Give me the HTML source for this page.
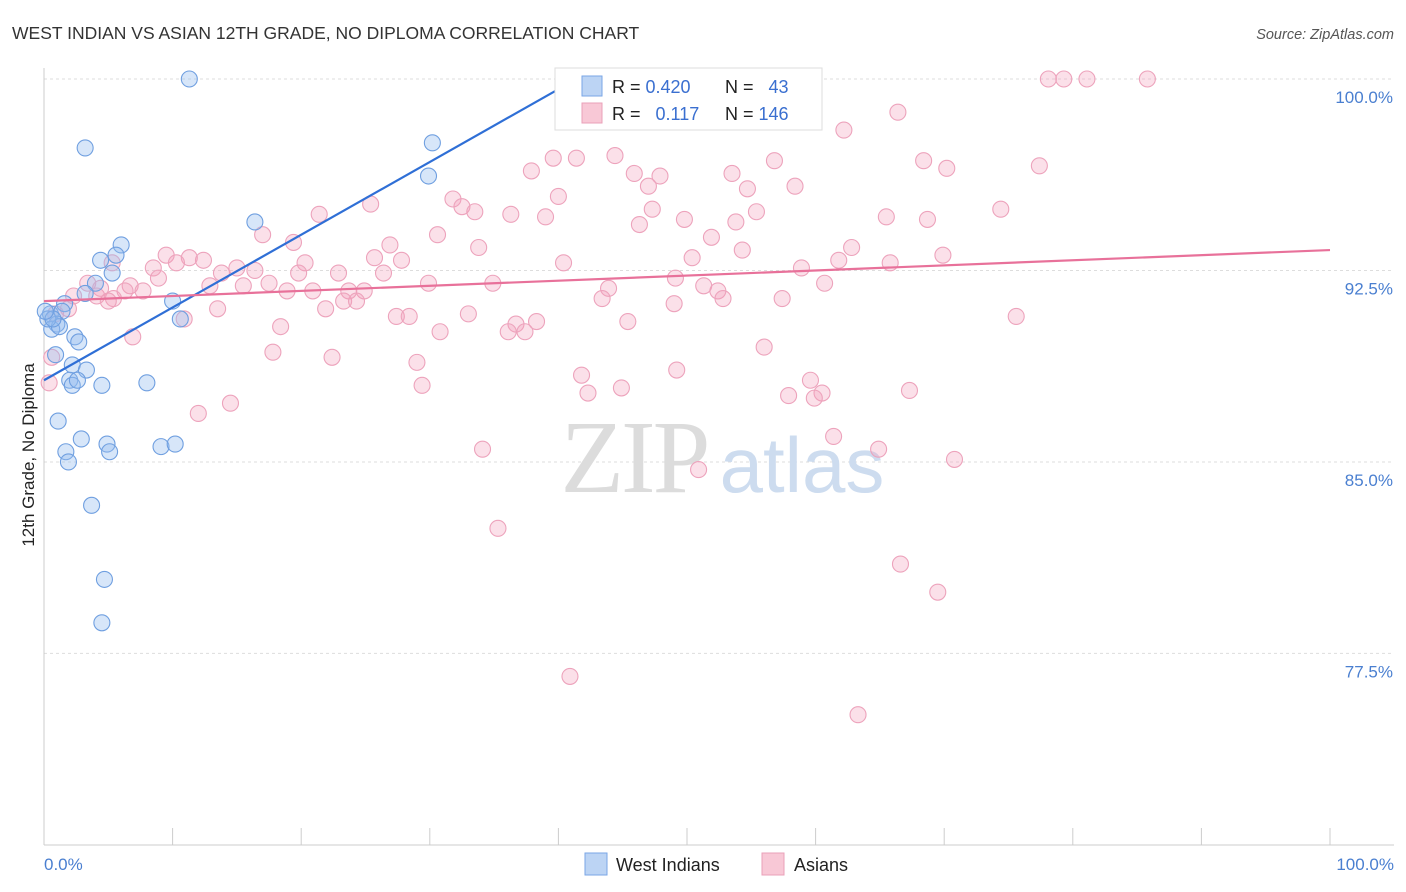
<!DOCTYPE html>
<html><head><meta charset="utf-8"><style>
body{margin:0;background:#fff;font-family:"Liberation Sans",sans-serif;}
svg{display:block}
</style></head><body>
<svg id="chart" width="1406" height="892">
<text x="12" y="39" font-size="17.5" fill="#333">WEST INDIAN VS ASIAN 12TH GRADE, NO DIPLOMA CORRELATION CHART</text>
<text x="1394" y="39" font-size="14.5" fill="#555" font-style="italic" text-anchor="end">Source: ZipAtlas.com</text>
<g id="grid"></g>
<g>
<text x="634" y="492" font-size="104" font-family="Liberation Serif,serif" fill="#dcdcdc" text-anchor="middle" letter-spacing="-3">ZIP</text>
<text x="802" y="492" font-size="78" fill="#cddcef" text-anchor="middle">atlas</text>
</g>
<g id="axes"></g>
<g id="pts"></g>
<g id="trend"></g>
<text transform="translate(34,455) rotate(-90)" font-size="17" fill="#222" text-anchor="middle">12th Grade, No Diploma</text>
<text x="44" y="870" font-size="17" fill="#4a7fd0">0.0%</text>
<text x="1394" y="870" font-size="17" fill="#4a7fd0" text-anchor="end">100.0%</text>
<g>
<rect x="555" y="68" width="267" height="62" fill="#fff" stroke="#ddd"/>
<rect x="582" y="76" width="20" height="20" fill="#bcd4f4" stroke="#7aa6e6"/>
<rect x="582" y="103" width="20" height="20" fill="#f8c8d6" stroke="#eaa0b8"/>
<text x="612" y="93" font-size="18" fill="#222">R = <tspan fill="#3a6fd0">0.420</tspan></text>
<text x="725" y="93" font-size="18" fill="#222">N = <tspan fill="#3a6fd0" dx="10">43</tspan></text>
<text x="612" y="120" font-size="18" fill="#222">R = <tspan fill="#3a6fd0" dx="10">0.117</tspan></text>
<text x="725" y="120" font-size="18" fill="#222">N = <tspan fill="#3a6fd0">146</tspan></text>
</g>
<g>
<rect x="585" y="853" width="22" height="22" fill="#bcd4f4" stroke="#7aa6e6"/>
<text x="616" y="871" font-size="18" fill="#222">West Indians</text>
<rect x="762" y="853" width="22" height="22" fill="#f8c8d6" stroke="#eaa0b8"/>
<text x="794" y="871" font-size="18" fill="#222">Asians</text>
</g>
</svg>
<script>
const yTicks=[100,92.5,85,77.5];
const yTickLabels=["100.0%","92.5%","85.0%","77.5%"];
const xTicks=[0,10,20,30,40,50,60,70,80,90,100];
const blueX=[11.3,3.2,30.2,29.9,16.4,6.0,5.6,4.4,5.3,4.0,3.2,1.6,10.0,0.5,1.4,1.0,0.6,1.2,2.4,2.7,10.6,0.9,2.2,3.3,2.0,2.2,2.6,4.5,8.0,1.1,2.9,4.9,5.1,9.1,10.2,1.7,1.9,3.7,4.7,4.5,0.3,0.7,0.1];
const blueY=[100,97.3,97.5,96.2,94.4,93.5,93.1,92.9,92.4,92.0,91.6,91.2,91.3,90.8,90.9,90.4,90.2,90.3,89.9,89.7,90.6,89.2,88.8,88.6,88.2,88.0,88.2,88.0,88.1,86.6,85.9,85.7,85.4,85.6,85.7,85.4,85.0,83.3,80.4,78.7,90.6,90.6,90.9];
const pinkX=[78.1,79.3,81.1,85.8,66.4,56.3,62.2,39.6,41.4,44.4,56.8,68.4,70.2,77.4,37.9,45.9,47.9,53.5,47.0,54.7,58.4,40.0,31.8,32.5,33.5,25.4,47.3,36.3,39.0,49.8,55.4,65.5,68.7,74.4,46.3,53.8,21.4,17.0,30.6,51.9,19.4,26.9,33.8,54.3,62.8,9.5,11.3,12.4,5.3,8.5,10.3,15.0,16.4,27.8,25.7,40.4,50.4,69.9,61.8,20.3,22.9,19.8,13.8,26.4,8.9,6.7,15.5,17.5,29.9,34.9,49.1,58.9,65.8,3.4,4.4,2.3,6.3,7.7,12.9,18.9,20.9,23.7,24.9,43.9,51.3,52.4,60.7,5.4,4.1,1.9,0.9,5.0,13.5,21.9,23.3,24.3,43.4,49.0,52.8,57.4,75.6,10.9,18.4,27.4,28.4,33.0,45.4,36.7,30.8,36.1,37.4,38.3,6.9,0.6,17.8,22.4,29.0,56.0,41.8,49.2,0.4,29.4,42.3,44.9,59.6,60.5,57.9,59.9,67.3,12.0,14.5,34.1,61.4,64.9,50.9,70.8,35.3,66.6,69.5,40.9,63.3];
const pinkY=[100,100,100,100,98.7,98.5,98.0,96.9,96.9,97.0,96.8,96.8,96.5,96.6,96.4,96.3,96.2,96.3,95.8,95.7,95.8,95.4,95.3,95.0,94.8,95.1,94.9,94.7,94.6,94.5,94.8,94.6,94.5,94.9,94.3,94.4,94.7,93.9,93.9,93.8,93.6,93.5,93.4,93.3,93.4,93.1,93.0,92.9,92.8,92.6,92.8,92.6,92.5,92.9,93.0,92.8,93.0,93.1,92.9,92.8,92.4,92.4,92.4,92.4,92.2,91.9,91.9,92.0,92.0,92.0,92.2,92.6,92.8,92.0,91.8,91.5,91.7,91.7,91.9,91.7,91.7,91.7,91.7,91.8,91.9,91.7,92.0,91.4,91.5,91.0,90.8,91.3,91.0,91.0,91.3,91.3,91.4,91.2,91.4,91.4,90.7,90.6,90.3,90.7,90.7,90.8,90.5,90.4,90.1,90.1,90.1,90.5,89.9,89.1,89.3,89.1,88.9,89.5,88.4,88.6,88.1,88.0,87.7,87.9,88.2,87.7,87.6,87.5,87.8,86.9,87.3,85.5,86.0,85.5,84.7,85.1,82.4,81.0,79.9,76.6,75.1];
const blueTrend=[88.2,0.285];
const blueTrendRange=[0,40.3];
const pinkTrend=[91.3,0.02];
const pinkTrendRange=[0,100];

const NS="http://www.w3.org/2000/svg";
const X0=44,X1=1330,Y100=79,PX=25.53;
const sx=v=>X0+(X1-X0)*v/100;
const sy=v=>Y100+(100-v)*PX;
function mk(tag,attrs,parent){const e=document.createElementNS(NS,tag);for(const k in attrs)e.setAttribute(k,attrs[k]);parent.appendChild(e);return e;}
const grid=document.getElementById('grid'),axes=document.getElementById('axes'),pts=document.getElementById('pts'),trend=document.getElementById('trend');
yTicks.forEach((t,i)=>{
  const l=mk('line',{x1:X0,x2:1394,y1:sy(t),y2:sy(t),stroke:'#ddd','stroke-dasharray':'3,3'},grid);
  
  
  const tx=mk('text',{x:1393,y:sy(t)+24,'font-size':17,fill:'#4a7fd0','text-anchor':'end'},grid);
  tx.textContent=yTickLabels[i];
  
  
});
const ax=mk('line',{x1:X0,x2:X0,y1:68,y2:845,stroke:'#ccc'},axes);


const bx=mk('line',{x1:X0,x2:1394,y1:845,y2:845,stroke:'#ccc'},axes);


xTicks.forEach(t=>{
  const l=mk('line',{x1:sx(t),x2:sx(t),y1:828,y2:845,stroke:'#ccc'},axes);
  
  
});
pinkX.forEach((x,i)=>{
  const c=mk('circle',{cx:sx(x),cy:sy(pinkY[i]),r:8,fill:'rgba(244,160,188,0.32)',stroke:'#eda3bc','stroke-width':1.1},pts);
  
  
});
blueX.forEach((x,i)=>{
  const c=mk('circle',{cx:sx(x),cy:sy(blueY[i]),r:8,fill:'rgba(150,190,240,0.38)',stroke:'#6f9fe0','stroke-width':1.1},pts);
  
  
});
const bt=mk('line',{x1:sx(blueTrendRange[0]),y1:sy(blueTrend[0]+blueTrend[1]*blueTrendRange[0]),x2:sx(blueTrendRange[1]),y2:sy(blueTrend[0]+blueTrend[1]*blueTrendRange[1]),stroke:'#2f6fd6','stroke-width':2.2},trend);


const pt=mk('line',{x1:sx(pinkTrendRange[0]),y1:sy(pinkTrend[0]+pinkTrend[1]*pinkTrendRange[0]),x2:sx(pinkTrendRange[1]),y2:sy(pinkTrend[0]+pinkTrend[1]*pinkTrendRange[1]),stroke:'#e8719a','stroke-width':2.2},trend);


</script>
</body></html>
